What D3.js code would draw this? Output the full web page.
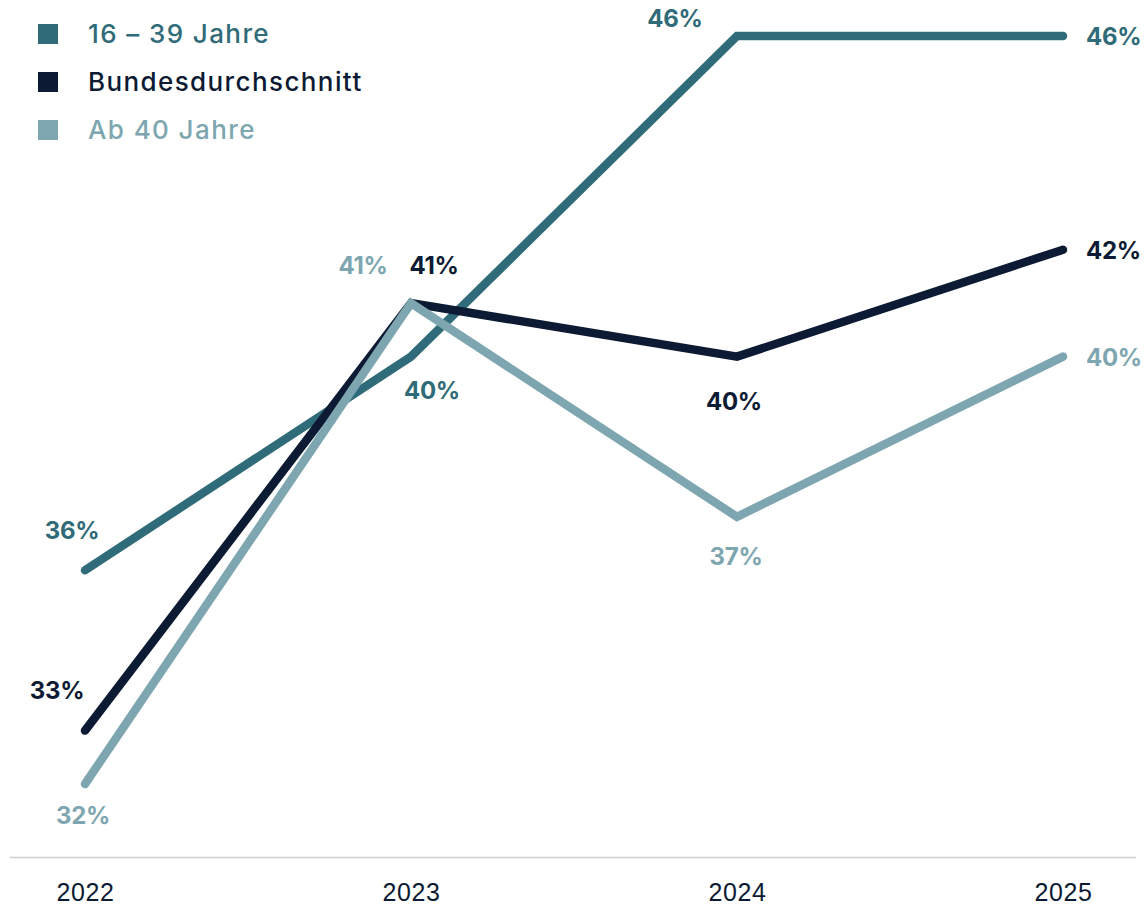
<!DOCTYPE html>
<html>
<head>
<meta charset="utf-8">
<script src="https://cdn.jsdelivr.net/npm/d3@7/dist/d3.min.js"></script>
<style>
  html, body { margin: 0; padding: 0; background: #fff; }
  svg { display: block; font-family: "Inter", "Noto Sans", sans-serif; }
</style>
</head>
<body>
<div id="chart"></div>
<script>
// data
var years = [2022, 2023, 2024, 2025];
var seriesNames = ["16 – 39 Jahre", "Bundesdurchschnitt", "Ab 40 Jahre"];
var young = [36, 40, 46, 46];
var average = [33, 41, 40, 42];
var older = [32, 41, 37, 40];

var colors = ["#2f6b78", "#0c1a33", "#7ea6b0"];

// label offsets (dx, dy, anchor) per series and year
var labelPos = [
    [[-13, -31, "middle"], [21, 42, "middle"], [-62, -9, "middle"], [23, 9, "start"]],
    [[-28, -32, "middle"], [23, -29, "middle"], [-3, 53, "middle"], [23, 9, "start"]],
    [[-2, 40, "middle"], [-48, -29, "middle"], [-1, 48, "middle"], [23, 9, "start"]]
];

var width = 1145, height = 907;

var svg = d3.select("#chart").append("svg")
    .attr("width", width)
    .attr("height", height);

var x = d3.scaleLinear()
    .domain([2022, 2025])
    .range([85, 1063]);

var y = d3.scaleLinear()
    .domain([32, 46])
    .range([784, 36]);

// baseline
svg.append("line")
    .attr("x1", 10).attr("x2", 1136)
    .attr("y1", 857.5).attr("y2", 857.5)
    .attr("stroke", "#cfcfcf")
    .attr("stroke-width", 1.5);

var xAxis = d3.axisBottom(x)
    .tickValues(years)
    .tickFormat(d3.format("d"))
    .tickSize(0)
    .tickPadding(0);

svg.append("g")
    .attr("transform", "translate(0,883)")
    .call(xAxis)
    .call(function(g) { g.select(".domain").remove(); })
    .selectAll("text")
    .attr("dy", "0.7em")
    .attr("fill", "#0c1a33")
    .style("font-size", "25px")
    .style("font-weight", "500")
    .style("letter-spacing", "0.6px");

var series = [
    { name: seriesNames[0], values: young, color: colors[0], pos: labelPos[0] },
    { name: seriesNames[1], values: average, color: colors[1], pos: labelPos[1] },
    { name: seriesNames[2], values: older, color: colors[2], pos: labelPos[2] }
];

var line = d3.line()
    .x(function(d, i) { return x(years[i]); })
    .y(function(d) { return y(d); });

svg.selectAll(".series-line")
    .data(series)
    .enter().append("path")
    .attr("class", "series-line")
    .attr("fill", "none")
    .attr("stroke", function(d) { return d.color; })
    .attr("stroke-width", 8.5)
    .attr("stroke-linecap", "round")
    .attr("stroke-linejoin", "miter")
    .attr("d", function(d) { return line(d.values); });

series.forEach(function(s) {
    svg.selectAll(null)
        .data(s.values)
        .enter().append("text")
        .attr("x", function(d, i) { return x(years[i]) + s.pos[i][0]; })
        .attr("y", function(d, i) { return y(d) + s.pos[i][1]; })
        .attr("text-anchor", function(d, i) { return s.pos[i][2]; })
        .attr("fill", s.color)
        .style("font-size", "24px")
        .style("font-weight", "700")
        .style("letter-spacing", "-0.3px")
        .text(function(d) { return d + "%"; });
});

// legend
var legend = svg.selectAll(".legend")
    .data(series)
    .enter().append("g")
    .attr("class", "legend")
    .attr("transform", function(d, i) { return "translate(38," + (24 + i * 48) + ")"; });

legend.append("rect")
    .attr("width", 20)
    .attr("height", 20)
    .attr("fill", function(d) { return d.color; });

legend.append("text")
    .attr("x", 50)
    .attr("y", 19)
    .attr("fill", function(d) { return d.color; })
    .style("font-size", "26px")
    .style("font-weight", "500")
    .style("letter-spacing", "1.4px")
    .text(function(d) { return d.name; });
</script>
</body>
</html>
